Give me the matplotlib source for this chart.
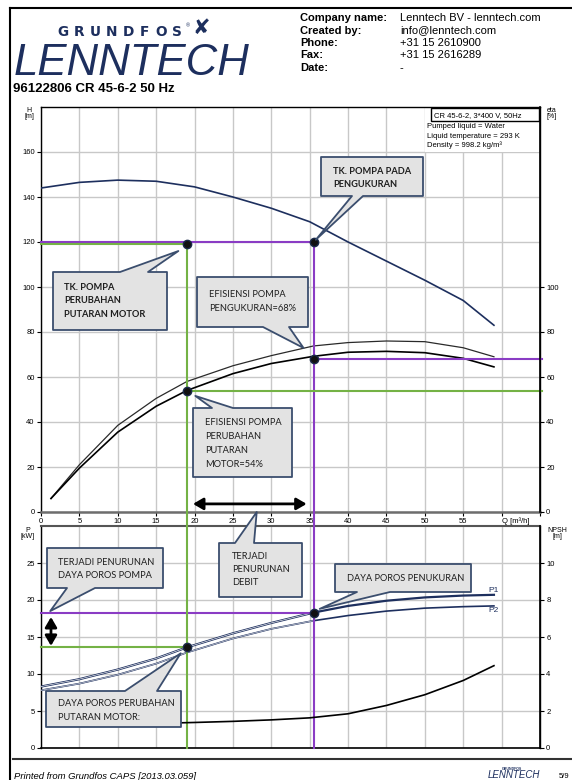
import matplotlib
matplotlib.use("Agg")
import matplotlib.pyplot as plt
import matplotlib.transforms as mtransforms
from matplotlib.patches import Polygon, Rectangle
from matplotlib.lines import Line2D
import numpy as np

plt.rcParams['font.family'] = ['Liberation Sans', 'DejaVu Sans']

# Kurva pompa CR 45-6-2 50 Hz
q_h = [0, 5, 10, 15, 20, 25, 30, 35, 40, 45, 50, 55, 59]
head = [144, 146.5, 147.5, 147, 144.5, 140, 135, 129, 120, 111.5, 103, 94, 83]

q_eta = [1.3, 5, 10, 15, 19, 25, 30, 35.5, 40, 45, 50, 55, 59]
eta_1 = [6, 21, 38.5, 50.5, 58, 65, 69.5, 73.8, 75.3, 76, 75.7, 73, 69]
eta_2 = [6, 19.5, 35.5, 47, 54, 61.5, 66, 69.2, 71, 71.4, 70.8, 68.3, 64.5]

q_p = [0, 5, 10, 15, 19, 25, 30, 35.5, 40, 45, 50, 55, 59]
p1 = [8.3, 9.3, 10.6, 12.1, 13.6, 15.5, 16.9, 18.3, 19.2, 19.9, 20.35, 20.6, 20.7]
p2 = [7.8, 8.7, 9.9, 11.4, 12.9, 14.8, 16.1, 17.2, 17.9, 18.5, 18.9, 19.1, 19.2]

q_npsh = [1.3, 5, 10, 15, 20, 25, 30, 35, 40, 45, 50, 55, 59]
npsh = [1.2, 1.22, 1.27, 1.33, 1.38, 1.44, 1.52, 1.63, 1.85, 2.3, 2.88, 3.65, 4.45]

# titik kerja: pengukuran vs perubahan putaran motor
q_ukur, q_ubah = 35.5, 19
h_ukur, h_ubah = 120, 119
eta_ukur, eta_ubah = 68, 54
p_ukur, p_ubah = 18.2, 13.7

q_ticks = list(range(0, 66, 5))
q_labels = [str(v) for v in range(0, 60, 5)] + ['', '']

W, HGT = 572, 780
fig = plt.figure(figsize=(W / 100, HGT / 100), dpi=100)
px = mtransforms.Affine2D().scale(1 / W, -1 / HGT).translate(0, 1) + fig.transFigure

navy = '#1d2f5e'
purple = '#8a3cc4'
green = '#74b245'
grid_c = '#c8c8c8'
edge_c = '#3b4e6e'


def to_px(ax, x, y):
    X, Y = ax.transData.transform((x, y))
    return X, HGT - Y


def style(ax, ymax, yt):
    ax.set_xlim(0, 65)
    ax.set_ylim(0, ymax)
    ax.set_xticks(q_ticks)
    ax.set_yticks(yt)
    ax.grid(True, color=grid_c, lw=1.0)
    ax.tick_params(labelsize=5.5, length=3, width=0.8, pad=1.5, colors='black')
    for s in ('left', 'top', 'right'):
        ax.spines[s].set_linewidth(1.0)
        ax.spines[s].set_color('black')
    ax.spines['bottom'].set_color('#6d6d6d')
    ax.spines['bottom'].set_linewidth(1.8)


def twin(ax, ymax, yt):
    t = ax.twinx()
    t.set_ylim(0, ymax)
    t.set_yticks(yt)
    t.tick_params(labelsize=5.5, length=3, width=0.8, pad=1.5, colors='black')
    for s in ('left', 'top', 'bottom'):
        t.spines[s].set_visible(False)
    t.spines['right'].set_linewidth(1.2)
    return t


def unit_label(x, y_top, name, unit):
    fig.text(x, y_top + 3, name, transform=px, fontsize=5, ha='center', va='center')
    fig.text(x, y_top + 9, unit, transform=px, fontsize=5, ha='center', va='center')


# ---- grafik atas: H dan eta ----
ax1 = fig.add_axes([41 / W, 1 - 512 / HGT, 499 / W, 405 / HGT])
style(ax1, 180, range(0, 161, 20))
ax1.set_xticklabels(q_labels)
ax1r = twin(ax1, 180, range(0, 101, 20))

ax1.add_patch(Rectangle((425, 108), 114, 44, transform=px, fc='white', ec='none', zorder=1.8))

ax1.plot(q_h, head, color=navy, lw=1.2, zorder=3)
ax1.plot(q_eta, eta_1, color='#2a2a2a', lw=0.9, zorder=3)
ax1.plot(q_eta, eta_2, color='black', lw=1.2, zorder=3)

ax1.plot([0, q_ukur], [h_ukur, h_ukur], color=purple, lw=1.5, zorder=4, clip_on=False)
ax1.plot([0, q_ubah], [h_ubah, h_ubah], color=green, lw=1.5, zorder=4, clip_on=False)
ax1.plot([q_ubah, q_ubah], [0, h_ubah], color=green, lw=1.5, zorder=4)
ax1.plot([q_ukur, q_ukur], [0, h_ukur], color=purple, lw=1.5, zorder=4)
ax1.plot([q_ubah, 65.3], [eta_ubah, eta_ubah], color=green, lw=1.5, zorder=4, clip_on=False)
ax1.plot([q_ukur, 65.3], [eta_ukur, eta_ukur], color=purple, lw=1.5, zorder=4, clip_on=False)

ax1.plot([q_ubah, q_ukur, q_ubah, q_ukur], [h_ubah, h_ukur, eta_ubah, eta_ukur], 'o',
         ms=6, mfc='#111111', mec='#1a2a4a', zorder=6)

ax1.annotate('', xy=(34.6, 3.6), xytext=(19.8, 3.6),
             arrowprops=dict(arrowstyle='<|-|>,head_length=0.6,head_width=0.35',
                             color='black', lw=2, mutation_scale=10, shrinkA=0, shrinkB=0),
             zorder=6)

ax1.text(60, -2.3, 'Q [m\u00b3/h]', fontsize=5.5, ha='left', va='top')
unit_label(29, 107, 'H', '[m]')
unit_label(552, 108, 'eta', '[%]')

# keterangan pompa
fig.add_artist(Rectangle((431, 108), 108, 13, transform=px, fc='white', ec='black', lw=1.0, zorder=9))
fig.text(434, 117.5, 'CR 45-6-2, 3*400 V, 50Hz', transform=px, fontsize=5.5, zorder=10)
for s, y in zip(['Pumped liquid = Water', 'Liquid temperature = 293 K', 'Density = 998.2 kg/m\u00b3'],
                [128, 137.7, 147.2]):
    fig.text(427, y, s, transform=px, fontsize=5.5, zorder=10)

# ---- grafik bawah: P dan NPSH ----
ax2 = fig.add_axes([41 / W, 1 - 748 / HGT, 499 / W, 222 / HGT])
style(ax2, 30, range(0, 26, 5))
ax2.set_xticklabels([])
ax2.tick_params(axis='x', length=0)
ax2.spines['bottom'].set_color('black')
ax2.spines['bottom'].set_linewidth(1.2)
ax2.spines['top'].set_color('#555555')
ax2.spines['top'].set_linewidth(1.5)
ax2r = twin(ax2, 12, range(0, 11, 2))

ax2.plot(q_p, p1, color=navy, lw=1.6, zorder=3)
ax2.plot(q_p, p2, color=navy, lw=1.2, zorder=3)
kiri = [i for i, q in enumerate(q_p) if q <= q_ukur]
ax2.plot([q_p[i] for i in kiri], [p1[i] for i in kiri], color='white', lw=0.45, zorder=3)
ax2.plot([q_p[i] for i in kiri], [p2[i] for i in kiri], color='white', lw=0.4, zorder=3)
ax2r.plot(q_npsh, npsh, color='black', lw=1.2, zorder=3)

ax2.text(59.6, 21.3, 'P1', fontsize=6, color=navy, ha='right', va='center')
ax2.text(59.6, 18.6, 'P2', fontsize=6, color=navy, ha='right', va='center')

ax2.plot([0, q_ukur], [p_ukur, p_ukur], color=purple, lw=1.5, zorder=4, clip_on=False)
ax2.plot([0, q_ubah], [p_ubah, p_ubah], color=green, lw=1.5, zorder=4, clip_on=False)
ax2.plot([q_ubah, q_ubah], [0, 31.9], color=green, lw=1.5, zorder=4, clip_on=False)
ax2.plot([q_ukur, q_ukur], [0, 31.9], color=purple, lw=1.5, zorder=4, clip_on=False)
ax2.plot([q_ubah, q_ukur], [p_ubah, p_ukur], 'o', ms=6, mfc='#111111', mec='#1a2a4a', zorder=6)

ax2.annotate('', xy=(1.3, 17.7), xytext=(1.3, 13.8),
             arrowprops=dict(arrowstyle='<|-|>,head_length=0.6,head_width=0.35',
                             color='black', lw=2, mutation_scale=10, shrinkA=0, shrinkB=0),
             zorder=6)

unit_label(28, 528, 'P', '[kW]')
unit_label(557, 527, 'NPSH', '[m]')


# ---- balon keterangan ----
def callout(lines, box, base, tip, ys, tx, bold=False):
    x0, y0, x1, y1 = box
    b0, b1 = base
    tpx, tpy = tip
    if tpy > y1:
        pts = [(x0, y0), (x1, y0), (x1, y1), (b1, y1), (tpx, tpy), (b0, y1), (x0, y1)]
    else:
        pts = [(x0, y0), (b0, y0), (tpx, tpy), (b1, y0), (x1, y0), (x1, y1), (x0, y1)]
    fig.add_artist(Polygon(pts, closed=True, transform=px, fc='#e3e3e3', ec=edge_c,
                           lw=1.3, joinstyle='round', zorder=10))
    for s, y in zip(lines, ys):
        fig.text(tx, y + 3.4, s, transform=px, family=['Lato', 'DejaVu Sans'], fontsize=6.7,
                 fontweight='bold' if bold else 'normal', color='#1e1e1e', zorder=11)


callout(['TK. POMPA PADA', 'PENGUKURAN'], (321, 157, 423, 196), (352, 363),
        to_px(ax1, 35.8, 121), [170.5, 183.5], 333, bold=True)
callout(['TK. POMPA', 'PERUBAHAN', 'PUTARAN MOTOR'], (53, 272, 167, 330), (120, 148),
        to_px(ax1, 17.9, 116), [286.7, 300, 313.3], 64, bold=True)
callout(['EFISIENSI POMPA', 'PENGUKURAN=68%'], (197, 277, 308, 327), (263, 289),
        to_px(ax1, 34.2, 72.9), [294, 308], 209)
callout(['EFISIENSI POMPA', 'PERUBAHAN', 'PUTARAN', 'MOTOR=54%'], (193, 408, 292, 477), (212, 233),
        to_px(ax1, 20.1, 51.6), [422, 436, 450, 464], 205)
callout(['TERJADI', 'PENURUNAN', 'DEBIT'], (219, 543, 302, 597), (235, 254),
        to_px(ax1, 28.1, 0), [556, 569, 582], 232)
callout(['TERJADI PENURUNAN', 'DAYA POROS POMPA'], (47, 548, 163, 588), (67, 95),
        to_px(ax2, 1.2, 18.5), [562, 575], 58)
callout(['DAYA POROS PENUKURAN'], (335, 564, 471, 592), (357, 390),
        to_px(ax2, 36.3, 18.8), [578], 347)
callout(['DAYA POROS PERUBAHAN', 'PUTARAN MOTOR:'], (46, 691, 181, 727), (125, 157),
        to_px(ax2, 18.2, 12.8), [703, 717], 58)

# ---- kepala halaman ----
fig.add_artist(Line2D([10, 10], [7.5, 780], transform=px, color='black', lw=1.5))
fig.add_artist(Line2D([10, 572], [7.5, 7.5], transform=px, color='black', lw=1.5))

for i, ch in enumerate('GRUNDFOS'):
    fig.text(63 + 16.3 * i, 35.5, ch, transform=px, family='DejaVu Sans', fontweight='bold',
             fontsize=9.8, color=navy, ha='center')
fig.text(186, 27, '\u00ae', transform=px, fontsize=4, color=navy)
fig.text(201, 34, '\u2718', transform=px, family='DejaVu Sans', fontsize=15, color=navy, ha='center')
fig.text(14, 75, 'LENNTECH', transform=px, fontsize=31.5, style='italic', color=navy)

labels = ['Company name:', 'Created by:', 'Phone:', 'Fax:', 'Date:']
values = ['Lenntech BV - lenntech.com', 'info@lenntech.com', '+31 15 2610900', '+31 15 2616289', '-']
for i, (k, v) in enumerate(zip(labels, values)):
    y = 21 + 12.5 * i
    fig.text(300, y, k, transform=px, fontsize=8, fontweight='bold')
    fig.text(400, y, v, transform=px, fontsize=8)

fig.text(13, 92, '96122806 CR 45-6-2 50 Hz', transform=px, fontsize=9.5, fontweight='bold')

# ---- kaki halaman ----
fig.add_artist(Line2D([13, 572], [758.5, 758.5], transform=px, color='#333333', lw=1.5))
fig.text(14, 779, 'Printed from Grundfos CAPS [2013.03.059]', transform=px, fontsize=6.8, style='italic')
fig.text(488, 778, 'LENNTECH', transform=px, fontsize=7, style='italic', color=navy)
fig.text(512, 769.5, 'GRUNDFOS', transform=px, fontsize=2.5, fontweight='bold', color=navy, ha='center')
fig.text(559, 778, '5/9', transform=px, fontsize=5.5)

fig.savefig('out.png', dpi=100)
